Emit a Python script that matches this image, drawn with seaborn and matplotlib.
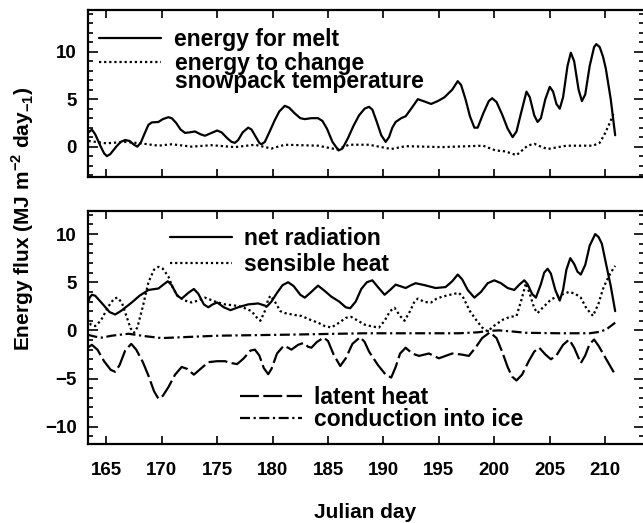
import matplotlib
matplotlib.use("Agg")
import matplotlib.pyplot as plt
from matplotlib.ticker import MultipleLocator
import seaborn as sns
import pandas as pd

# ---------------- data ----------------
melt_days = [163.4, 163.7, 164.0, 164.5, 164.8, 165.05, 165.35, 165.9, 166.3, 166.7,
             167.1, 167.5, 167.8, 168.1, 168.5, 168.8, 169.1, 169.7, 170.1, 170.6,
             170.9, 171.3, 171.7, 172.1, 172.5, 173.0, 173.5, 173.9, 174.4, 175.0,
             175.4, 175.9, 176.3, 176.6, 176.9, 177.3, 177.8, 178.1, 178.5, 178.8,
             179.0, 179.3, 179.7, 180.2, 180.6, 181.1, 181.5, 182.0, 182.5, 182.9,
             183.5, 184.1, 184.5, 184.9, 185.4, 185.95, 186.3, 186.8, 187.3, 187.8,
             188.3, 188.7, 189.0, 189.4, 189.8, 190.2, 190.5, 190.8, 191.1, 191.6,
             192.0, 192.5, 193.1, 193.6, 194.3, 194.9, 195.5, 196.2, 196.7, 197.0,
             197.4, 197.8, 198.2, 198.5, 199.0, 199.5, 199.8, 200.2, 200.7, 201.2,
             201.65, 202.0, 202.4, 202.9, 203.2, 203.6, 203.9, 204.2, 204.6, 205.0,
             205.3, 205.6, 205.9, 206.2, 206.6, 206.9, 207.2, 207.6, 207.9, 208.2,
             208.6, 209.0, 209.2, 209.5, 209.8, 210.06, 210.5, 210.9]
melt_vals = [1.5, 1.8, 1.3, 0.0, -0.7, -1.0, -0.8, 0.0, 0.5, 0.7,
             0.6, 0.2, 0.0, 0.4, 1.5, 2.3, 2.55, 2.6, 2.9, 3.1,
             3.0, 2.5, 1.8, 1.45, 1.5, 1.6, 1.3, 1.15, 1.4, 1.7,
             1.5, 0.9, 0.5, 0.4, 0.7, 1.5, 2.0, 1.8, 1.0, 0.4,
             0.25, 0.5, 1.5, 2.8, 3.7, 4.3, 4.1, 3.5, 3.0, 2.9,
             3.0, 3.0, 2.7, 1.9, 0.5, -0.4, -0.2, 0.9, 2.2, 3.3,
             4.0, 4.2, 3.9, 2.6, 1.2, 0.5, 1.0, 2.0, 2.6, 3.0,
             3.2, 4.0, 5.0, 4.8, 4.5, 4.8, 5.2, 6.0, 6.9, 6.5,
             5.0, 3.2, 2.0, 2.0, 3.5, 4.8, 5.1, 4.7, 3.4, 1.9,
             1.0, 1.6, 3.5, 5.8, 5.2, 3.3, 2.6, 3.0, 5.0, 6.3,
             5.8, 4.5, 4.0, 5.2, 8.5, 9.9, 9.0, 6.0, 4.8, 5.5,
             8.5, 10.5, 10.8, 10.5, 9.5, 8.2, 5.0, 1.2]

snow_days = [163.4, 165.0, 166.7, 168.1, 169.7, 170.9, 172.7, 174.5, 176.6, 178.4,
             179.9, 181.1, 184.1, 185.8, 186.9, 188.7, 190.7, 192.0, 195.3, 199.0,
             200.1, 201.0, 201.5, 202.0, 202.5, 203.0, 203.6, 204.2, 204.8, 206.5,
             208.9, 209.5, 209.9, 210.3, 210.8]
snow_vals = [0.6, 0.35, 0.5, 0.35, 0.1, 0.25, 0.0, 0.15, -0.05, 0.2,
             -0.2, 0.2, 0.1, -0.3, 0.2, 0.2, -0.25, 0.05, -0.05, 0.1,
             -0.4, -0.5, -0.7, -0.9, -0.4, 0.1, 0.3, 0.0, -0.25, 0.1,
             0.1, 0.4, 1.2, 2.2, 3.6]

rad_days = [163.3, 163.5, 163.7, 164.0, 164.7, 165.3, 165.8, 166.3, 167.3, 168.0,
            168.8, 169.7, 170.2, 170.55, 170.9, 171.4, 171.8, 172.4, 172.9, 173.3,
            173.8, 174.2, 174.6, 175.0, 175.6, 176.2, 176.9, 177.8, 178.7, 179.5,
            179.9, 180.4, 180.9, 181.4, 181.9, 182.5, 182.9, 183.4, 184.1, 184.7,
            185.3, 186.0, 186.6, 187.0, 187.5, 188.0, 188.5, 189.0, 189.5, 190.1,
            190.6, 191.1, 191.5, 192.0, 192.5, 192.9, 193.7, 194.7, 195.6, 196.2,
            196.7, 197.1, 197.6, 198.2, 198.8, 199.4, 200.0, 200.6, 201.2, 201.8,
            202.3, 202.7, 203.0, 203.4, 203.75, 204.2, 204.5, 204.8, 205.1, 205.5,
            205.9, 206.2, 206.5, 206.85, 207.2, 207.5, 207.8, 208.2, 208.6, 209.1,
            209.4, 209.7, 210.06, 210.5, 210.9]
rad_vals = [2.7, 3.4, 3.7, 3.6, 2.7, 1.9, 1.65, 2.0, 2.9, 3.6,
            4.2, 4.35, 4.8, 5.1, 4.7, 3.6, 3.3, 3.9, 4.3, 3.8,
            2.7, 2.4, 2.7, 2.9, 2.4, 2.1, 2.4, 2.7, 2.8, 2.5,
            3.0, 3.9, 4.7, 5.0, 4.6, 3.7, 3.4, 3.9, 4.65, 4.1,
            3.5, 3.0, 2.4, 2.3, 3.0, 4.3, 5.0, 5.2, 4.5, 3.7,
            4.2, 4.75, 4.6, 4.4, 4.7, 4.9, 4.7, 4.4, 4.5, 5.1,
            5.8, 5.3, 4.2, 3.4, 4.0, 4.9, 5.2, 4.9, 4.4, 4.2,
            4.8, 5.2, 4.8, 3.8, 3.4, 4.8, 6.0, 6.4, 5.9, 4.2,
            3.1, 4.2, 6.3, 7.5, 6.9, 6.1, 5.8, 6.8, 8.8, 10.0,
            9.7, 9.0, 7.0, 4.6, 2.0]

sens_days = [163.3, 163.6, 164.0, 164.5, 165.2, 165.7, 166.0, 166.4, 166.9, 167.2,
             167.5, 167.8, 168.3, 168.8, 169.3, 169.7, 170.1, 170.6, 171.0, 171.5,
             172.1, 172.7, 173.3, 173.9, 174.8, 175.7, 176.5, 177.2, 178.1, 178.6,
             178.9, 179.3, 179.6, 179.8, 180.2, 180.7, 181.1, 182.0, 182.6, 183.4,
             184.1, 184.7, 185.3, 186.0, 186.6, 187.1, 187.7, 188.3, 189.0, 189.6,
             190.1, 190.6, 191.0, 191.5, 191.9, 192.4, 192.8, 193.1, 193.7, 194.3,
             194.8, 195.3, 196.0, 196.8, 197.2, 197.8, 198.35, 198.9, 199.4, 200.0,
             200.75, 201.4, 202.0, 202.4, 202.85, 203.2, 203.6, 203.9, 204.4, 205.1,
             205.8, 206.75, 207.3, 207.8, 208.3, 208.9, 209.4, 209.8, 210.1, 210.5,
             210.9]
sens_vals = [1.2, 0.6, 0.45, 1.0, 2.5, 3.3, 3.4, 2.9, 1.2, 0.2,
             -0.25, 0.3, 2.5, 5.0, 6.3, 6.6, 6.4, 5.6, 4.4, 3.5,
             3.1, 2.9, 3.1, 3.4, 3.0, 2.7, 2.6, 2.45, 2.0, 1.3,
             1.0, 2.0, 3.2, 3.6, 3.0, 2.0, 1.8, 1.6, 1.5, 1.1,
             0.8, 0.45, 0.3, 0.8, 1.3, 1.4, 1.0, 0.6, 0.4, 0.3,
             1.0, 2.0, 2.35, 1.5, 1.0, 2.0, 3.0, 3.3, 2.95, 2.9,
             3.3, 3.5, 3.7, 3.9, 3.4, 2.0, 1.1, 0.3, -0.1, 0.5,
             1.1, 1.4, 1.5, 3.0, 4.9, 3.8, 2.3, 1.8, 2.4, 3.2,
             3.6, 4.0, 3.8, 3.4, 2.3, 1.5, 2.8, 4.3, 5.1, 6.0,
             6.7]

lat_days = [163.3, 163.7, 164.2, 164.8, 165.4, 165.8, 166.2, 166.7, 167.25, 167.7,
            168.3, 168.8, 169.3, 169.7, 170.1, 170.6, 171.2, 171.8, 172.3, 172.9,
            173.5, 174.2, 175.0, 175.7, 176.3, 176.8, 177.4, 178.0, 178.4, 178.8,
            179.2, 179.6, 179.9, 180.4, 181.0, 181.4, 181.7, 182.3, 182.8, 183.2,
            183.5, 184.0, 184.6, 185.0, 185.5, 186.1, 186.6, 187.2, 187.9, 188.3,
            188.7, 189.5, 190.2, 190.7, 191.1, 191.5, 192.0, 192.6, 193.2, 194.1,
            195.0, 196.2, 197.0, 197.7, 198.3, 198.9, 199.6, 200.2, 200.7, 201.2,
            201.6, 202.0, 202.5, 203.1, 203.6, 204.05, 204.6, 205.1, 205.6, 206.2,
            206.75, 207.2, 207.8, 208.2, 208.6, 209.0, 209.4, 210.0, 210.5, 210.9]
lat_vals = [-1.8, -1.5, -2.0, -3.2, -4.1, -4.3, -3.6, -2.1, -1.4, -2.0,
            -3.3, -4.7, -6.3, -7.1, -6.8, -5.9, -4.6, -3.8, -4.0, -4.6,
            -4.0, -3.3, -3.2, -3.2, -3.4, -3.5, -2.9, -2.1, -2.0, -2.6,
            -3.9, -4.55, -4.0, -2.4, -1.6, -1.8, -2.0, -1.5, -1.3, -1.7,
            -1.8, -1.2, -0.75, -1.1, -2.5, -3.7, -2.9, -1.4, -0.7, -1.2,
            -2.2, -3.6, -4.6, -4.9, -3.8, -2.4, -1.8, -2.4, -2.65, -2.4,
            -2.9, -2.4, -2.5, -2.65, -1.8, -0.8, -0.2, -0.8, -2.2, -3.8,
            -4.8, -5.2, -4.6, -3.2, -2.2, -1.8, -2.5, -3.0, -2.6, -1.5,
            -0.95, -1.8, -3.4, -2.6, -1.4, -0.95, -1.6, -2.8, -3.8, -4.6]

cond_days = [163.3, 164.0, 164.6, 165.5, 167.0, 168.5, 170.0, 172.0, 175.1, 181.1,
             188.3, 196.8, 198.5, 199.5, 200.45, 201.5, 202.85, 205.9, 208.6, 209.5,
             210.1, 210.9]
cond_vals = [-0.45, -0.65, -0.75, -0.55, -0.35, -0.6, -0.8, -0.7, -0.55, -0.45,
             -0.3, -0.3, -0.2, -0.05, 0.0, -0.1, -0.25, -0.3, -0.3, -0.15,
             0.1, 0.8]

x_ticks = [165, 170, 175, 180, 185, 190, 195, 200, 205, 210]
top_yticks = [0, 5, 10]
bot_yticks = [-10, -5, 0, 5, 10]

# ---------------- style ----------------
sns.set_style("ticks")
plt.rcParams["font.family"] = ["Liberation Sans", "DejaVu Sans"]
plt.rcParams["mathtext.fontset"] = "custom"
plt.rcParams["mathtext.rm"] = "Liberation Sans"
plt.rcParams["mathtext.bf"] = "Liberation Sans:bold"
for k in ["text.color", "axes.labelcolor", "xtick.color", "ytick.color", "axes.edgecolor"]:
    plt.rcParams[k] = "black"

W, H = 643, 523
fig = plt.figure(figsize=(W / 100, H / 100), dpi=100)

def frac_rect(x0, y0, x1, y1):
    return [x0 / W, 1 - y1 / H, (x1 - x0) / W, (y1 - y0) / H]

ax1 = fig.add_axes(frac_rect(88, 10, 644, 177))
ax2 = fig.add_axes(frac_rect(88, 211, 644, 444))

LW = 1.6
SOLID = "-"
DOTTED = (0, (1.0, 1.3))
LONGDASH = (0, (8.5, 2))
DASHDOT = (0, (4.5, 1.6, 1.0, 1.6))

def series(ax, d, v, ls, label):
    df = pd.DataFrame({"day": d, "flux": v})
    sns.lineplot(data=df, x="day", y="flux", ax=ax, color="black", lw=LW,
                 linestyle=ls, sort=False, estimator=None, label=label, legend=False)

series(ax1, melt_days, melt_vals, SOLID, "energy for melt")
series(ax1, snow_days, snow_vals, DOTTED, "energy to change")

series(ax2, rad_days, rad_vals, SOLID, "net radiation")
series(ax2, sens_days, sens_vals, DOTTED, "sensible heat")
series(ax2, lat_days, lat_vals, LONGDASH, "latent heat")
series(ax2, cond_days, cond_vals, DASHDOT, "conduction into ice")

for ax, yl, yt in [(ax1, (-3.2, 14.4), top_yticks), (ax2, (-11.8, 12.4), bot_yticks)]:
    ax.set_xlim(163.35, 213.5)
    ax.set_ylim(*yl)
    ax.set_xticks(x_ticks)
    ax.set_yticks(yt)
    ax.yaxis.set_minor_locator(MultipleLocator(1))
    ax.set_xlabel("")
    ax.set_ylabel("")
    for s in ax.spines.values():
        s.set_visible(True)
        s.set_linewidth(1.6)
        s.set_color("black")
    ax.tick_params(axis="both", which="both", direction="in", top=True, right=True,
                   colors="black", width=1.2)
    ax.tick_params(axis="x", which="major", length=6, labelsize=13.5, pad=13)
    ax.tick_params(axis="y", which="major", length=7.5, labelsize=13.5, pad=8)
    ax.tick_params(axis="y", which="minor", length=3.5)
    for lab in ax.get_xticklabels() + ax.get_yticklabels():
        lab.set_fontweight("bold")

ax1.tick_params(axis="x", labelbottom=False)

LEG_FS = 16.5
leg_kw = dict(frameon=False, handlelength=2.7, handletextpad=0.55,
              borderpad=0, borderaxespad=0, labelspacing=0.05, loc="upper left",
              prop={"size": LEG_FS, "weight": "bold"})

l1 = ax1.get_lines()
ax1.legend(handles=l1, labels=["energy for melt", " "],
           bbox_to_anchor=(0.02, 0.893), **leg_kw)
ax1.text(0.1565, 0.533, "energy to change\nsnowpack temperature", transform=ax1.transAxes,
         fontsize=LEG_FS, fontweight="bold", ha="left", va="baseline", linespacing=0.72)

l2 = ax2.get_lines()
legA = ax2.legend(handles=l2[:2], labels=["net radiation", "sensible heat"],
                  bbox_to_anchor=(0.147, 0.933), **{**leg_kw, "labelspacing": 0.15})
ax2.add_artist(legA)
ax2.legend(handles=l2[2:], labels=["latent heat", "conduction into ice"],
           bbox_to_anchor=(0.273, 0.248), **{**leg_kw, "labelspacing": -0.05})

fig.text(23 / W, 1 - 219 / H, r"Energy flux (MJ m$^{\mathbf{-2}}$ day$_{\mathbf{-1}}$)",
         rotation=90, ha="center", va="center", fontsize=15, fontweight="bold")
fig.text(365 / W, 1 - 512 / H, "Julian day", ha="center", va="center",
         fontsize=15, fontweight="bold")

fig.savefig("out.png", dpi=100, facecolor="white")
